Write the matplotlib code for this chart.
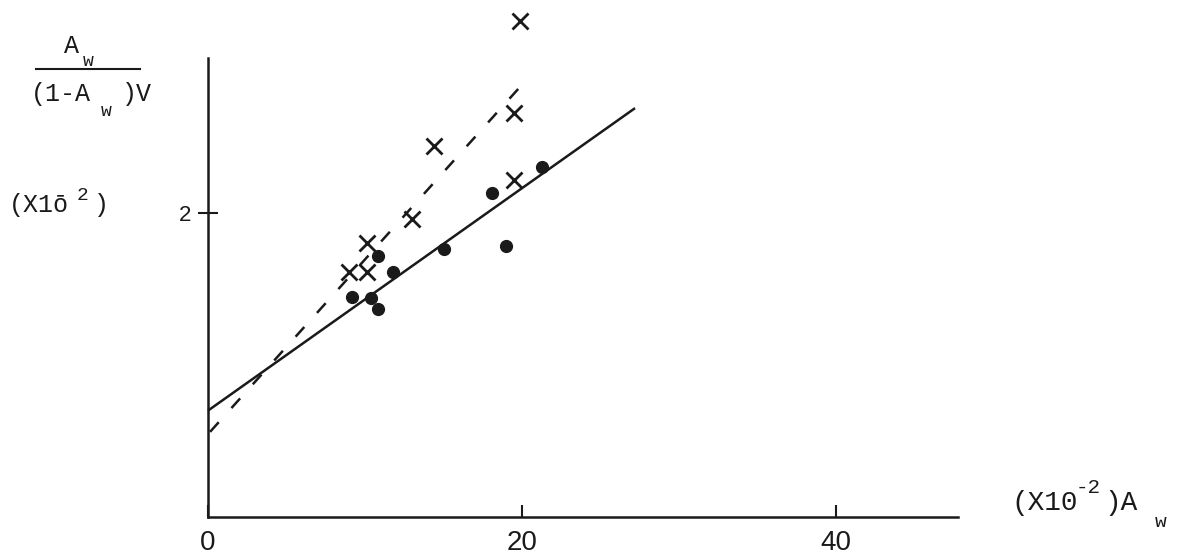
import matplotlib
matplotlib.use("Agg")
import matplotlib.pyplot as plt
from matplotlib.lines import Line2D

# ---- data ----
cross_x = [19.9, 19.5, 14.4, 13.0, 10.1, 9.0, 10.1, 19.5]
cross_y = [3.26, 2.66, 2.44, 1.96, 1.80, 1.61, 1.61, 2.22]
dot_x = [21.3, 18.1, 19.0, 15.0, 10.8, 11.8, 9.2, 10.4, 10.8]
dot_y = [2.30, 2.13, 1.78, 1.76, 1.72, 1.61, 1.45, 1.44, 1.37]
solid_x = [0.0, 27.2]
solid_y = [0.70, 2.69]
dashed_x = [0.13, 20.4]
dashed_y = [0.56, 2.89]
xticks = [0, 20, 40]
xtick_labels = ["0", "20", "40"]
yticks = [2]
ytick_labels = ["2"]

W, H = 1179, 557
fig = plt.figure(figsize=(W / 100, H / 100), dpi=100)
ax = fig.add_axes([0, 0, 1, 1])
ax.patch.set_alpha(0)

# pixel mapping: origin at (208, 517), 15.7 px per x unit, 152 px per y unit
x0, y0, sx, sy = 208, 517, 15.7, 152.0
ax.set_xlim((0 - x0) / sx, (W - x0) / sx)
ax.set_ylim((y0 - H) / sy, y0 / sy)

ink = "#1a1a1a"
mono = "Liberation Mono"

for s in ["top", "right"]:
    ax.spines[s].set_visible(False)
ax.spines["left"].set_position(("data", 0))
ax.spines["bottom"].set_position(("data", 0))
ax.spines["left"].set_bounds(0, 3.02)
ax.spines["bottom"].set_bounds(0, 47.8)
for s in ["left", "bottom"]:
    ax.spines[s].set_linewidth(1.8)
    ax.spines[s].set_color(ink)

ax.set_xticks(xticks)
ax.set_xticklabels(xtick_labels, fontsize=20, family="Liberation Sans", color=ink)
ax.set_yticks(yticks)
ax.set_yticklabels(ytick_labels, fontsize=16, family="Liberation Sans", color=ink)
ax.tick_params(axis="x", direction="in", length=9, width=1.5, pad=9, colors=ink)
ax.tick_params(axis="y", direction="inout", length=14, width=1.5, pad=5, colors=ink)

# fitted lines
ax.plot(solid_x, solid_y, color=ink, lw=1.8, solid_capstyle="butt")
ax.plot(dashed_x, dashed_y, color=ink, lw=1.8, linestyle=(0, (5.2, 7.6)))

# data points
ax.plot(cross_x, cross_y, linestyle="none", marker="x", markersize=12,
        markeredgewidth=2.0, color=ink)
ax.plot(dot_x, dot_y, linestyle="none", marker="o", markersize=8.5, color=ink)


def ftxt(px, py, s, size, **kw):
    fig.text(px / W, 1 - py / H, s, fontsize=size, family=mono, color=ink,
             va="baseline", ha="left", **kw)


# y label (fraction)
ftxt(64, 53, "A", 18)
ftxt(83, 66, "w", 13)
fig.add_artist(Line2D([36 / W, 140 / W], [1 - 69 / H, 1 - 69 / H],
                      transform=fig.transFigure, color=ink, lw=1.5))
ftxt(31, 101, "(1-A", 18)
ftxt(101, 116, "w", 13)
ftxt(122, 101, ")V", 18)

ftxt(9, 212, "(X1ō", 18)
ftxt(77, 200, "2", 14)
ftxt(94, 212, ")", 18)

# x label
ftxt(1011, 510, "(X10", 20)
ftxt(1076, 493, "-2", 15)
ftxt(1104, 510, ")A", 20)
ftxt(1155, 527, "w", 14)

fig.savefig("out.png", dpi=100)
